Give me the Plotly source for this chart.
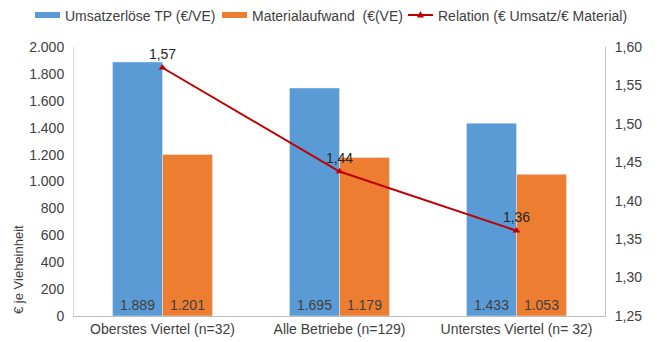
import plotly.graph_objects as go

# Kennzahlen je Gruppe
categories = ["Oberstes Viertel (n=32)", "Alle Betriebe (n=129)", "Unterstes Viertel (n= 32)"]
umsatz = [1889, 1695, 1433]
material = [1201, 1179, 1053]
relation = [1.573, 1.438, 1.361]

series_names = ["Umsatzerlöse TP (€/VE)", "Materialaufwand  (€(VE)", "Relation (€ Umsatz/€ Material)"]
series_colors = ["#5B9BD5", "#ED7D31", "#C00000"]


def de_int(v):
    return f"{v:,}".replace(",", ".")


def de_dec(v):
    return f"{v:.2f}".replace(".", ",")


W, H = 659, 342
M_L, M_R, M_T, M_B = 74, 54, 47, 26
PW, PH = W - M_L - M_R, H - M_T - M_B

font_family = "Liberation Sans, Arial, sans-serif"
text_color = "#404040"
FS = 14


def px_x(px):
    return (px - M_L) / PW


def px_y(py):
    return (H - M_B - py) / PH


fig = go.Figure()

fig.add_trace(go.Bar(
    name=series_names[0],
    x=categories, y=umsatz,
    marker_color=series_colors[0],
    text=[de_int(v) for v in umsatz],
    textposition="inside", insidetextanchor="start",
    textfont=dict(color=text_color, size=FS, family=font_family),
))
fig.add_trace(go.Bar(
    name=series_names[1],
    x=categories, y=material,
    marker_color=series_colors[1],
    text=[de_int(v) for v in material],
    textposition="inside", insidetextanchor="start",
    textfont=dict(color=text_color, size=FS, family=font_family),
))
fig.add_trace(go.Scatter(
    name=series_names[2],
    x=categories, y=relation,
    yaxis="y2",
    mode="lines+markers+text",
    line=dict(color=series_colors[2], width=2),
    marker=dict(symbol="triangle-up", size=7, color=series_colors[2]),
    text=[de_dec(v) for v in relation],
    textposition="top center",
    textfont=dict(color="#262626", size=FS, family=font_family),
))

# Legende oben, als Formen und Texte gesetzt
legend_y = 15
legend_starts = [35, 222, 408]
shapes = []
annotations = []
for i, (x0, name, col) in enumerate(zip(legend_starts, series_names, series_colors)):
    if i < 2:
        shapes.append(dict(type="rect", xref="paper", yref="paper",
                           x0=px_x(x0), x1=px_x(x0 + 25),
                           y0=px_y(legend_y + 3), y1=px_y(legend_y - 3),
                           fillcolor=col, line=dict(width=0)))
    else:
        shapes.append(dict(type="line", xref="paper", yref="paper",
                           x0=px_x(x0), x1=px_x(x0 + 25),
                           y0=px_y(legend_y), y1=px_y(legend_y),
                           line=dict(color=col, width=2)))
        cx = x0 + 12.5
        shapes.append(dict(type="path", xref="paper", yref="paper",
                           path=(f"M {px_x(cx - 3.5)},{px_y(legend_y + 2.5)} "
                                 f"L {px_x(cx + 3.5)},{px_y(legend_y + 2.5)} "
                                 f"L {px_x(cx)},{px_y(legend_y - 4)} Z"),
                           fillcolor=col, line=dict(width=0)))
    annotations.append(dict(text=name, xref="paper", yref="paper",
                            x=px_x(x0 + 28), y=px_y(legend_y + 1),
                            xanchor="left", yanchor="middle", showarrow=False,
                            font=dict(size=FS, color=text_color, family=font_family)))

annotations.append(dict(text="€ je Vieheinheit", textangle=-90,
                        xref="paper", yref="paper", x=px_x(18), y=px_y(270),
                        xanchor="center", yanchor="middle", showarrow=False,
                        font=dict(size=13, color=text_color, family=font_family)))

fig.update_layout(
    width=W, height=H,
    margin=dict(l=M_L, r=M_R, t=M_T, b=M_B, autoexpand=False),
    paper_bgcolor="white", plot_bgcolor="white",
    font=dict(family=font_family, size=FS, color=text_color),
    separators=",.",
    barmode="group", bargap=0.435, bargroupgap=0,
    showlegend=False,
    xaxis=dict(showline=True, linecolor="#BFBFBF", linewidth=1,
               tickfont=dict(size=FS, color=text_color), ticks=""),
    yaxis=dict(range=[0, 2000], dtick=200, tickformat=",.0f",
               showgrid=False, zeroline=False,
               showline=True, linecolor="#D9D9D9", linewidth=1,
               ticklabelstandoff=6,
               tickfont=dict(size=FS, color=text_color)),
    yaxis2=dict(range=[1.25, 1.60], dtick=0.05, tickformat=".2f",
                overlaying="y", side="right",
                showgrid=False, zeroline=False,
                showline=True, linecolor="#BFBFBF", linewidth=1,
                ticklabelstandoff=6,
                tickfont=dict(size=FS, color=text_color)),
    shapes=shapes,
    annotations=annotations,
)

fig.write_html("out.html")
